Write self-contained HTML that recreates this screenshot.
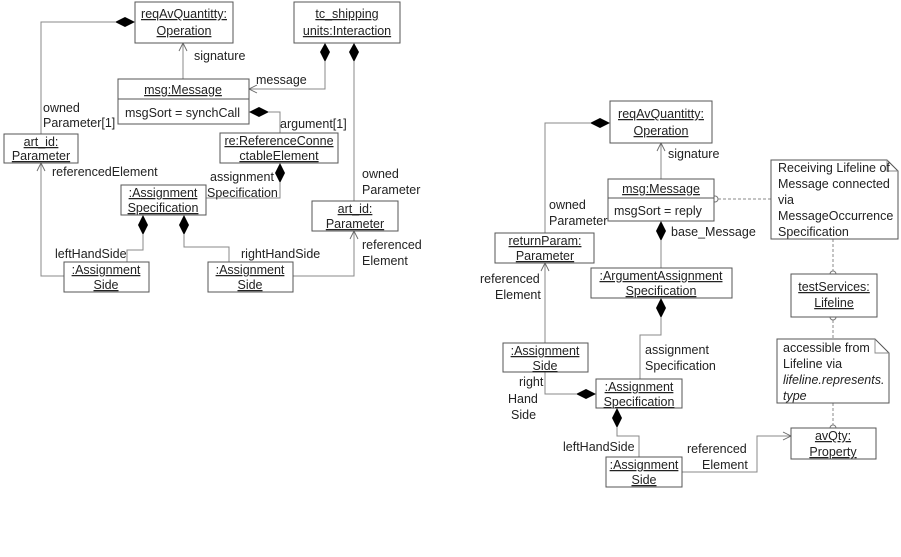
<!DOCTYPE html>
<html><head><meta charset="utf-8"><style>
html,body{margin:0;padding:0;background:#fff;}
svg{display:block;}
text{font-family:"Liberation Sans",sans-serif;font-size:12.5px;fill:#222;}
.u{text-decoration:underline;}
.b{fill:#fff;stroke:#555;stroke-width:1;}
.l{fill:none;stroke:#888;stroke-width:1;}
.d{fill:none;stroke:#888;stroke-width:1;stroke-dasharray:3,2;}
.dm{fill:#000;}
.ar{fill:none;stroke:#666;stroke-width:0.9;}
</style></head><body>
<svg width="901" height="557" viewBox="0 0 901 557" xmlns="http://www.w3.org/2000/svg">
<!-- LEFT DIAGRAM -->
<polyline class="l" points="41,134 41,22 115,22"/>
<polygon class="dm" points="135,22 125,17 115,22 125,27"/>
<polyline class="l" points="183,79 183,43"/>
<polyline class="ar" points="179,51 183,43 187,51"/>
<polyline class="l" points="325,62 325,89 249,89"/>
<polygon class="dm" points="325,43 320,52 325,62 330,52"/>
<polyline class="ar" points="257,85 249,89 257,93"/>
<polyline class="l" points="354,62 354,201"/>
<polygon class="dm" points="354,43 349,52 354,62 359,52"/>
<polyline class="l" points="269,112 280,112 280,133"/>
<polygon class="dm" points="249,112 259,107 269,112 259,117"/>
<polyline class="l" points="280,183 280,198 206,198"/>
<polygon class="dm" points="280,163 275,173 280,183 285,173"/>
<polyline class="l" points="143,235 143,250 127,250 127,262"/>
<polygon class="dm" points="143,215 138,225 143,235 148,225"/>
<polyline class="l" points="184,235 184,247 229,247 229,262"/>
<polygon class="dm" points="184,215 179,225 184,235 189,225"/>
<polyline class="l" points="64,276 41,276 41,163"/>
<polyline class="ar" points="37,171 41,163 45,171"/>
<polyline class="l" points="293,276 354,276 354,231"/>
<polyline class="ar" points="350,239 354,231 358,239"/>
<rect class="b" x="135" y="2" width="98" height="41"/>
<text class="u" x="184" y="18" text-anchor="middle">reqAvQuantitty:</text>
<text class="u" x="184" y="35" text-anchor="middle">Operation</text>
<rect class="b" x="294" y="2" width="106" height="41"/>
<text class="u" x="347" y="18" text-anchor="middle">tc_shipping</text>
<text class="u" x="347" y="35" text-anchor="middle">units:Interaction</text>
<rect class="b" x="118" y="79" width="131" height="45"/>
<line x1="118" y1="99" x2="249" y2="99" stroke="#555"/>
<text class="u" x="183" y="94" text-anchor="middle">msg:Message</text>
<text x="125" y="117">msgSort = synchCall</text>
<rect class="b" x="4" y="134" width="74" height="29"/>
<text class="u" x="41" y="146" text-anchor="middle">art_id:</text>
<text class="u" x="41" y="160" text-anchor="middle">Parameter</text>
<rect class="b" x="220" y="133" width="118" height="30"/>
<text class="u" x="279" y="145" text-anchor="middle">re:ReferenceConne</text>
<text class="u" x="279" y="160" text-anchor="middle">ctableElement</text>
<rect class="b" x="121" y="185" width="85" height="30"/>
<text class="u" x="163" y="197" text-anchor="middle">:Assignment</text>
<text class="u" x="163" y="212" text-anchor="middle">Specification</text>
<rect class="b" x="312" y="201" width="86" height="30"/>
<text class="u" x="355" y="213" text-anchor="middle">art_id:</text>
<text class="u" x="355" y="228" text-anchor="middle">Parameter</text>
<rect class="b" x="64" y="262" width="85" height="30"/>
<text class="u" x="106" y="274" text-anchor="middle">:Assignment</text>
<text class="u" x="106" y="289" text-anchor="middle">Side</text>
<rect class="b" x="208" y="262" width="85" height="30"/>
<text class="u" x="250" y="274" text-anchor="middle">:Assignment</text>
<text class="u" x="250" y="289" text-anchor="middle">Side</text>
<text x="194" y="60">signature</text>
<text x="256" y="84">message</text>
<text x="43" y="112">owned</text>
<text x="43" y="127">Parameter[1]</text>
<text x="280" y="128">argument[1]</text>
<text x="52" y="176">referencedElement</text>
<text x="210" y="181">assignment</text>
<text x="207" y="197">Specification</text>
<text x="362" y="178">owned</text>
<text x="362" y="194">Parameter</text>
<text x="362" y="249">referenced</text>
<text x="362" y="265">Element</text>
<text x="55" y="258">leftHandSide</text>
<text x="241" y="258">rightHandSide</text>

<!-- RIGHT DIAGRAM -->
<polyline class="l" points="545,233 545,123 590,123"/>
<polygon class="dm" points="610,123 600,118 590,123 600,128"/>
<polyline class="l" points="661,179 661,143"/>
<polyline class="ar" points="657,151 661,143 665,151"/>
<polyline class="l" points="661,241 661,268"/>
<polygon class="dm" points="661,221 656,231 661,241 666,231"/>
<polyline class="l" points="661,318 661,335 640,335 640,379"/>
<polygon class="dm" points="661,298 656,308 661,318 666,308"/>
<polyline class="l" points="576,394 545,394 545,372"/>
<polygon class="dm" points="596,394 586,389 576,394 586,399"/>
<polyline class="l" points="545,343 545,263"/>
<polyline class="ar" points="541,271 545,263 549,271"/>
<polyline class="l" points="617,428 617,436 639,436 639,457"/>
<polygon class="dm" points="617,408 612,418 617,428 622,418"/>
<polyline class="l" points="682,472 757,472 757,436 791,436"/>
<polyline class="ar" points="783,432 791,436 783,440"/>
<line class="d" x1="718" y1="199" x2="771" y2="199"/>
<circle cx="715" cy="199" r="3" fill="#fff" stroke="#777"/>
<line class="d" x1="833" y1="239" x2="833" y2="271"/>
<circle cx="833" cy="274" r="3" fill="#fff" stroke="#777"/>
<line class="d" x1="833" y1="320" x2="833" y2="339"/>
<circle cx="833" cy="317" r="3" fill="#fff" stroke="#777"/>
<line class="d" x1="833" y1="403" x2="833" y2="425"/>
<circle cx="833" cy="428" r="3" fill="#fff" stroke="#777"/>
<rect class="b" x="610" y="101" width="102" height="42"/>
<text class="u" x="661" y="118" text-anchor="middle">reqAvQuantitty:</text>
<text class="u" x="661" y="135" text-anchor="middle">Operation</text>
<rect class="b" x="608" y="179" width="106" height="42"/>
<line x1="608" y1="198" x2="714" y2="198" stroke="#555"/>
<text class="u" x="661" y="193" text-anchor="middle">msg:Message</text>
<text x="614" y="215">msgSort = reply</text>
<rect class="b" x="495" y="233" width="99" height="30"/>
<text class="u" x="545" y="245" text-anchor="middle">returnParam:</text>
<text class="u" x="545" y="260" text-anchor="middle">Parameter</text>
<rect class="b" x="591" y="268" width="141" height="30"/>
<text class="u" x="661" y="280" text-anchor="middle">:ArgumentAssignment</text>
<text class="u" x="661" y="295" text-anchor="middle">Specification</text>
<path class="b" d="M771,160 L887,160 L898,171 L898,239 L771,239 Z"/>
<polyline class="ar" points="887,160 887,171 898,171" style="stroke:#888"/>
<text x="778" y="172">Receiving Lifeline of</text>
<text x="778" y="188">Message connected</text>
<text x="778" y="204">via</text>
<text x="778" y="220">MessageOccurrence</text>
<text x="778" y="236">Specification</text>
<rect class="b" x="791" y="274" width="86" height="43"/>
<text class="u" x="834" y="291" text-anchor="middle">testServices:</text>
<text class="u" x="834" y="307" text-anchor="middle">Lifeline</text>
<path class="b" d="M777,339 L875,339 L889,353 L889,403 L777,403 Z"/>
<polyline class="ar" points="875,339 875,353 889,353" style="stroke:#888"/>
<text x="783" y="352">accessible from</text>
<text x="783" y="368">Lifeline via</text>
<text x="783" y="384" font-style="italic">lifeline.represents.</text>
<text x="783" y="400" font-style="italic">type</text>
<rect class="b" x="503" y="343" width="85" height="29"/>
<text class="u" x="545" y="355" text-anchor="middle">:Assignment</text>
<text class="u" x="545" y="370" text-anchor="middle">Side</text>
<rect class="b" x="596" y="379" width="86" height="29"/>
<text class="u" x="639" y="391" text-anchor="middle">:Assignment</text>
<text class="u" x="639" y="406" text-anchor="middle">Specification</text>
<rect class="b" x="791" y="428" width="85" height="31"/>
<text class="u" x="833" y="440" text-anchor="middle">avQty:</text>
<text class="u" x="833" y="456" text-anchor="middle">Property</text>
<rect class="b" x="606" y="457" width="76" height="30"/>
<text class="u" x="644" y="469" text-anchor="middle">:Assignment</text>
<text class="u" x="644" y="484" text-anchor="middle">Side</text>
<text x="668" y="158">signature</text>
<text x="549" y="209">owned</text>
<text x="549" y="225">Parameter</text>
<text x="671" y="236">base_Message</text>
<text x="480" y="283">referenced</text>
<text x="495" y="299">Element</text>
<text x="645" y="354">assignment</text>
<text x="645" y="370">Specification</text>
<text x="519" y="386">right</text>
<text x="508" y="403">Hand</text>
<text x="511" y="419">Side</text>
<text x="563" y="451">leftHandSide</text>
<text x="687" y="453">referenced</text>
<text x="702" y="469">Element</text>
</svg>
</body></html>
